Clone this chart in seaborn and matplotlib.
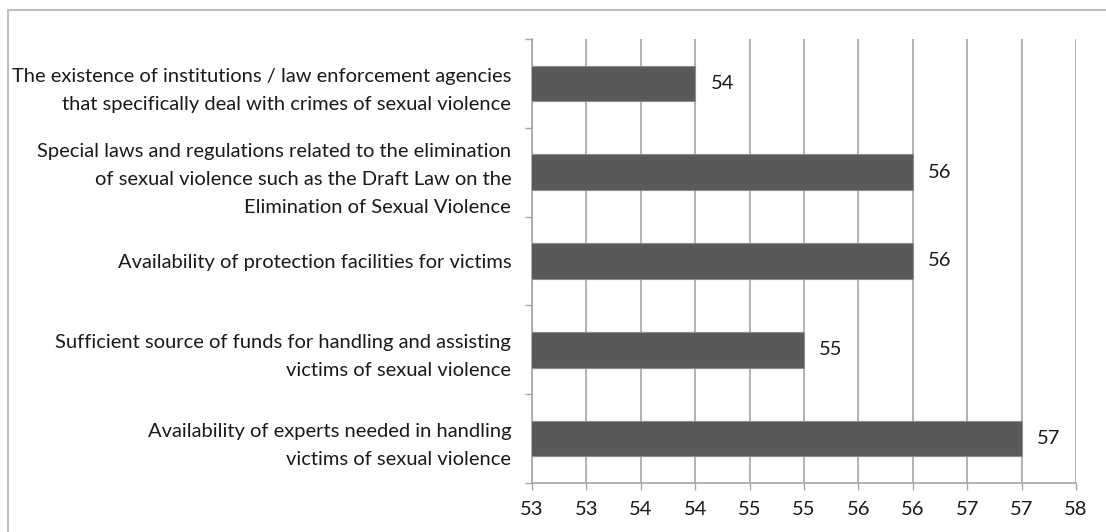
import numpy as np
import matplotlib
matplotlib.use("Agg")
import matplotlib.pyplot as plt
import seaborn as sns
from matplotlib.lines import Line2D
from matplotlib.ticker import FixedLocator, FuncFormatter

# data
factors = [
    "The existence of institutions / law enforcement agencies\nthat specifically deal with crimes of sexual violence",
    "Special laws and regulations related to the elimination\nof sexual violence such as the Draft Law on the\nElimination of Sexual Violence",
    "Availability of protection facilities for victims",
    "Sufficient source of funds for handling and assisting\nvictims of sexual violence",
    "Availability of experts needed in handling\nvictims of sexual violence",
]
scores = [54, 56, 56, 55, 57]
x_ticks = [52.5, 53, 53.5, 54, 54.5, 55, 55.5, 56, 56.5, 57, 57.5]

sns.set_style("white")
plt.rcParams['font.family'] = ['Lato', 'DejaVu Sans']

fig = plt.figure(figsize=(11.06, 5.32), dpi=100)
ax = fig.add_axes([532 / 1106, 1 - 483 / 532, (1076 - 532) / 1106, (483 - 39) / 532])

sns.barplot(x=scores, y=factors, orient='h', color='#595959', width=0.4,
            edgecolor='#8c8c8c', linewidth=0.8, saturation=1, ax=ax, zorder=3)

ax.set_xlim(52.5, 57.5)
ax.xaxis.set_major_locator(FixedLocator(x_ticks))
# excel style rounding of the tick values (half up)
ax.xaxis.set_major_formatter(FuncFormatter(lambda v, p: str(int(np.floor(v + 0.5)))))
ax.grid(axis='x', color='#a6a6a6', linewidth=1.2, zorder=0)
ax.grid(axis='y', visible=False)

ax.set_ylim(len(factors) - 0.5, -0.5)
ax.yaxis.set_minor_locator(FixedLocator(np.arange(-0.5, len(factors), 1)))
ax.tick_params(axis='y', which='major', length=0, pad=15, labelsize=14.5)
ax.tick_params(axis='y', which='minor', left=True, length=5, width=1, color='#a6a6a6')
ax.tick_params(axis='x', which='major', bottom=True, length=5, width=1, color='#a6a6a6',
               pad=8, labelsize=14.5)
for lab in ax.get_yticklabels():
    lab.set_horizontalalignment('right')
    lab.set_linespacing(1.8)
    lab.set_color('#1a1a1a')
for lab in ax.get_xticklabels():
    lab.set_color('#1a1a1a')

for side in ['top', 'right']:
    ax.spines[side].set_visible(False)
for side in ['left', 'bottom']:
    ax.spines[side].set_color('#a6a6a6')
    ax.spines[side].set_linewidth(1.2)
ax.set_xlabel('')
ax.set_ylabel('')

ax.bar_label(ax.containers[0], labels=[str(s) for s in scores], padding=11,
             fontsize=14.5, color='#1a1a1a')

# outer frame of the chart area (only left and top edges are visible)
fx = 8 / 1106
fy = 1 - 10 / 532
fig.add_artist(Line2D([fx, fx], [0, fy], transform=fig.transFigure, color='#bfbfbf', lw=1.5))
fig.add_artist(Line2D([fx, 1], [fy, fy], transform=fig.transFigure, color='#bfbfbf', lw=1.5))

fig.savefig('out.png', dpi=100, facecolor='white')
